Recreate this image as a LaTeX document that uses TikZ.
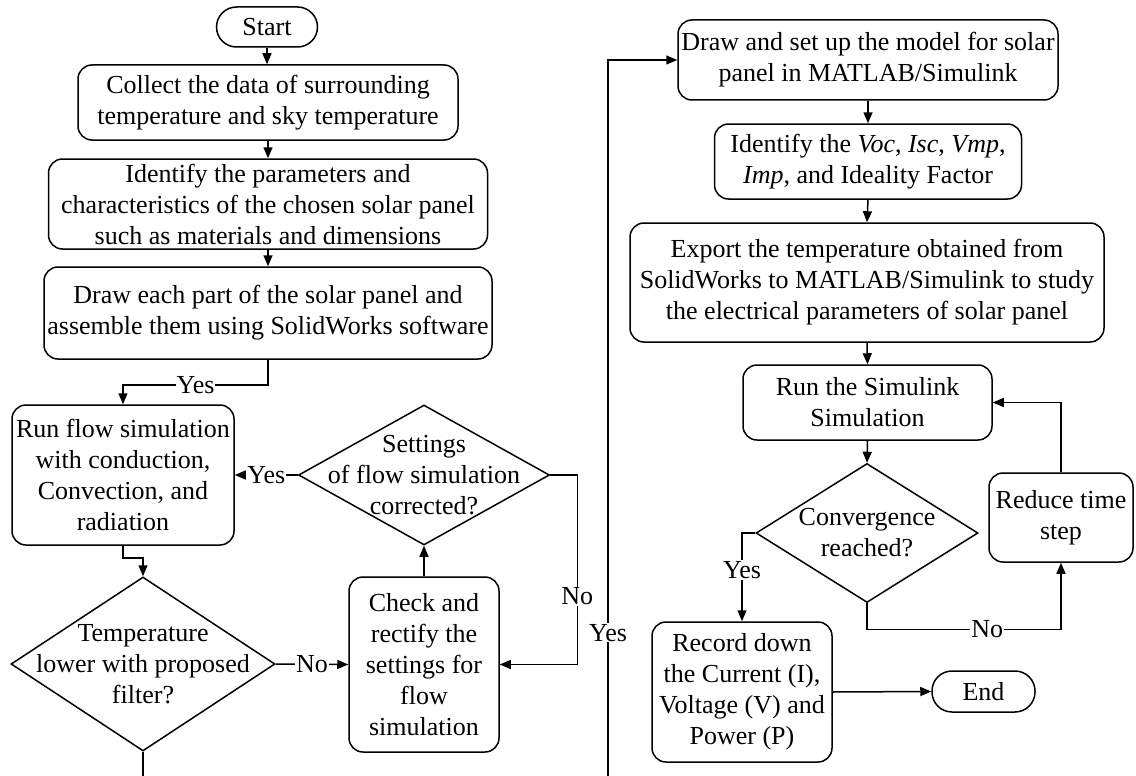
\documentclass[tikz,border=0pt]{standalone}
\usepackage{fontspec}
\setmainfont{Liberation Serif}
\usetikzlibrary{arrows.meta,shapes.geometric}
\begin{document}
\begin{tikzpicture}[x=1pt,y=-1pt,
  font=\fontsize{26}{31}\selectfont,
  line width=1.5pt,
  proc/.style={draw, rounded corners=14pt, align=center, inner sep=0pt},
  term/.style={draw, rounded corners=20pt, align=center, inner sep=0pt},
  dec/.style={draw, diamond, inner sep=0pt},
  lbl/.style={align=center, inner sep=0pt},
  arr/.style={-{Triangle[length=11pt,width=9pt]}},
  tag/.style={fill=white, inner sep=1pt}]
\useasboundingbox (0,0) rectangle (1136,776);

% left column
\node[term, minimum width=101pt, minimum height=40pt] (start) at (267,27) {Start};
\node[proc, minimum width=380pt, minimum height=75pt] (collect) at (268,102.5)
  {Collect the data of surrounding\\temperature and sky temperature};
\node[proc, minimum width=439pt, minimum height=90pt] (ident) at (268,204)
  {Identify the parameters and\\characteristics of the chosen solar panel\\such as materials and dimensions};
\node[proc, minimum width=448pt, minimum height=92pt] (drawp) at (268,313)
  {Draw each part of the solar panel and\\assemble them using SolidWorks software};
\node[proc, minimum width=222pt, minimum height=140pt] (runflow) at (123,475)
  {Run flow simulation\\with conduction,\\Convection, and\\radiation};
\node[dec, minimum width=251pt, minimum height=140pt] (settings) at (424,475) {};
\node[lbl] (settingst) at (settings) {Settings\\of flow simulation\\corrected?};
\node[dec, minimum width=264pt, minimum height=174pt] (temp) at (143,664) {};
\node[lbl] (tempt) at (temp) {Temperature\\lower with proposed\\filter?};
\node[proc, minimum width=150pt, minimum height=175pt] (check) at (424,664.5)
  {Check and\\rectify the\\settings for\\flow\\simulation};

% right column
\node[proc, minimum width=380pt, minimum height=80pt] (setup) at (868,60)
  {Draw and set up the model for solar\\panel in MATLAB/Simulink};
\node[proc, minimum width=307pt, minimum height=75pt] (voc) at (868,161.5)
  {Identify the \textit{Voc}, \textit{Isc}, \textit{Vmp},\\\textit{Imp}, and Ideality Factor};
\node[proc, minimum width=474pt, minimum height=119pt] (export) at (867,282.5)
  {Export the temperature obtained from\\SolidWorks to MATLAB/Simulink to study\\the electrical parameters of solar panel};
\node[proc, minimum width=249pt, minimum height=75pt] (runsim) at (867.5,402.5)
  {Run the Simulink\\Simulation};
\node[dec, minimum width=222pt, minimum height=139pt] (conv) at (867,533) {};
\node[lbl] (convt) at (conv) {Convergence\\reached?};
\node[proc, minimum width=144pt, minimum height=89pt] (reduce) at (1061,517.5)
  {Reduce time\\step};
\node[proc, minimum width=180pt, minimum height=140pt] (record) at (742,692)
  {Record down\\the Current (I),\\Voltage (V) and\\Power (P)};
\node[term, minimum width=103pt, minimum height=41pt] (end) at (983.5,691.5) {End};

\coordinate (tb) at (143,776);
\coordinate (yb) at (608,776);

% connectors left
\draw[arr] (start.south) -- (start.south |- collect.north);
\draw[arr] (collect.south) -- (ident.north);
\draw[arr] (ident.south) -- (drawp.north);
\draw[arr] (drawp.south) -- ++(0,25) -| node[tag, pos=0.25] {Yes} (runflow.north);
\draw[arr] (settings.west) -- node[tag] {Yes} (runflow.east);
\draw[arr] (runflow.south) -- ++(0,12) -| (temp.north);
\draw[arr] (temp.east) -- node[tag] {No} (check.west);
\draw[arr] (check.north) -- (settings.south);
\draw[arr] (settings.east) -- ++(27,0) |- node[tag, pos=0.32] {No} (check.east);
\draw (temp.south) -- (tb);
\draw[arr] (yb) -- node[tag, pos=0.2] {Yes} (yb |- setup.west) -- (setup.west);

% connectors right
\draw[arr] (setup.south) -- (voc.north);
\draw[arr] (voc.south) -- (export.north);
\draw[arr] (export.south) -- (runsim.north);
\draw[arr] (runsim.south) -- (conv.north);
\draw[arr] (conv.west) -| node[tag, pos=0.71] {Yes} (record.north);
\draw[arr] (conv.south) -- ++(0,26) -| node[tag, pos=0.31] {No} (reduce.south);
\draw[arr] (reduce.north) |- (runsim.east);
\draw[arr] (record.east) -- (end.west);
\end{tikzpicture}
\end{document}
